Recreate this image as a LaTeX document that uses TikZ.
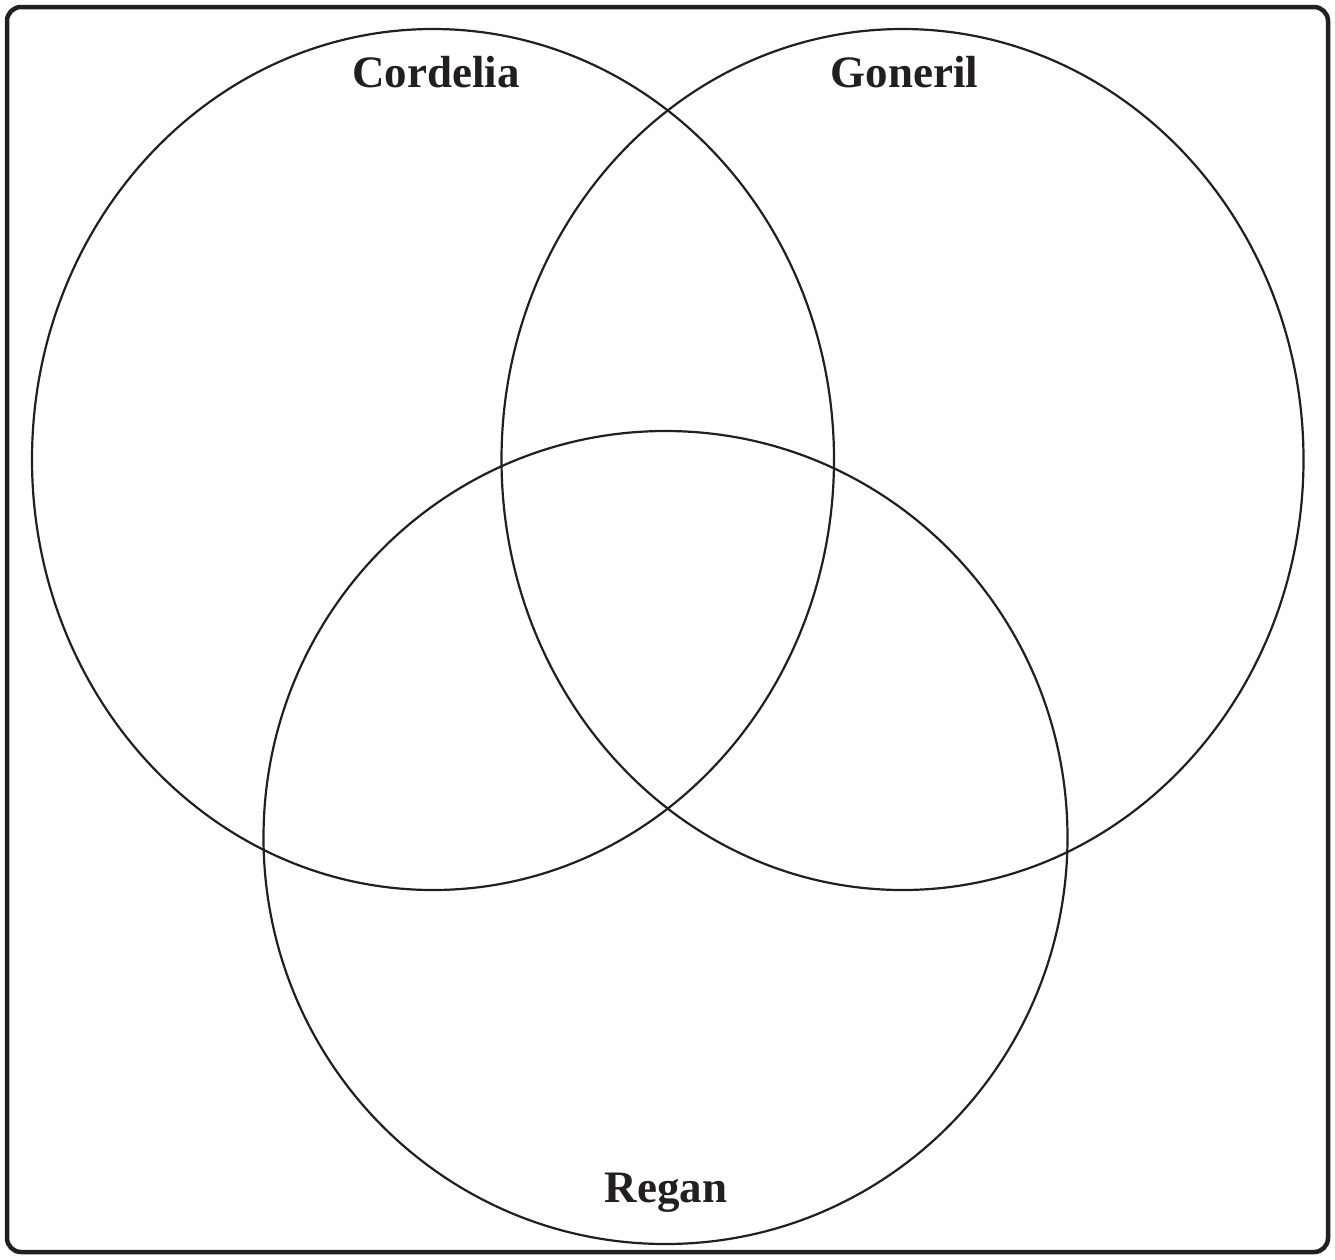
\documentclass[tikz,border=0pt]{standalone}
\usepackage{fontspec}
\setmainfont{Liberation Serif}
\usetikzlibrary{shapes.geometric}
\definecolor{inkblack}{HTML}{231F20}

\begin{document}
\begin{tikzpicture}[
    x=1pt, y=-1pt,
    set_ring/.style={draw=inkblack, ellipse, line width=2.2pt, inner sep=0pt, outer sep=0pt, minimum width=802pt, minimum height=861pt},
    set_label/.style={text=inkblack, anchor=base, inner sep=0pt, font=\fontsize{45}{54}\selectfont\bfseries}
]
\useasboundingbox (0,0) rectangle (1335,1259);
\draw[draw=inkblack, line width=4.5pt, rounded corners=14pt] (7,7) rectangle (1328,1252);

\node (cordelia_set) [set_ring] at (433,459.5) {};
\node (goneril_set) [set_ring] at (902.5,459.5) {};
\node (regan_set) [set_ring, minimum width=804pt, minimum height=813pt] at (665.5,837.5) {};

\node (cordelia_label) [set_label] at (436,87) {Cordelia};
\node (goneril_label) [set_label] at (904.5,87) {Goneril};
\node (regan_label) [set_label] at (666,1202) {Regan};
\end{tikzpicture}
\end{document}
